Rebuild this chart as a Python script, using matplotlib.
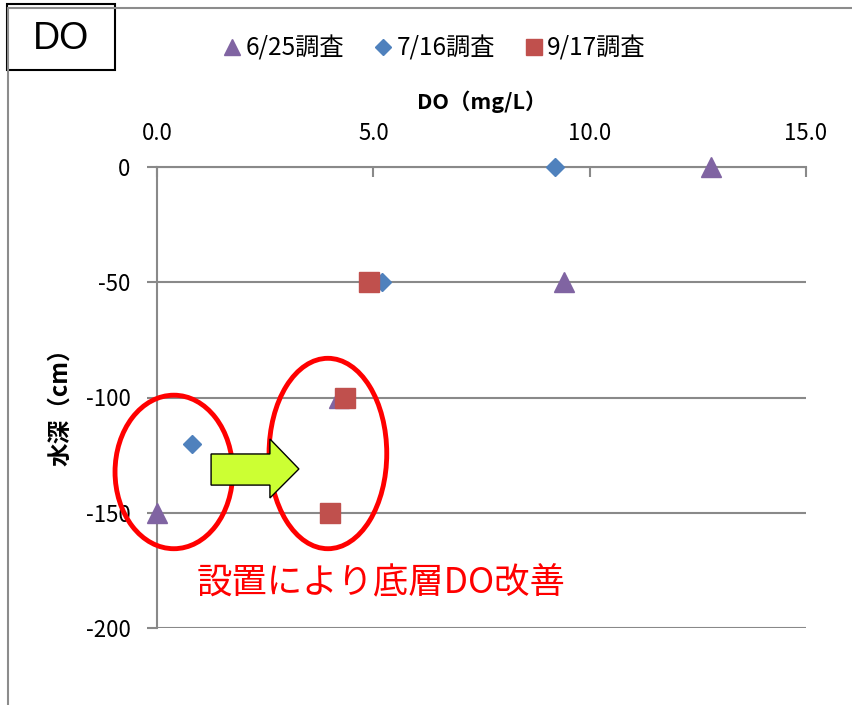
import matplotlib
matplotlib.use('Agg')
import matplotlib.pyplot as plt
from matplotlib.lines import Line2D
from matplotlib.patches import Ellipse, Polygon, Rectangle

plt.rcParams['font.family'] = ['Noto Sans CJK JP', 'DejaVu Sans']
plt.rcParams['axes.unicode_minus'] = False

# DO profiles (mg/L) against water depth (cm) for three surveys
depth_0625 = [0, -50, -100, -150]
do_0625 = [12.8, 9.4, 4.2, 0.0]
depth_0716 = [0, -50, -120]
do_0716 = [9.2, 5.2, 0.8]
depth_0917 = [-50, -100, -150]
do_0917 = [4.9, 4.35, 4.0]

labels = ['6/25調査', '7/16調査', '9/17調査']
colors = ['#8064A2', '#4F81BD', '#C0504D']
x_ticks = [0, 5, 10, 15]
y_ticks = [0, -50, -100, -150, -200]
grid_col = '#898989'

fig = plt.figure(figsize=(8.52, 7.05), dpi=100)
W, H = 852, 705
ax = fig.add_axes([157 / W, 1 - 628 / H, 649 / W, 461 / H])

ax.plot(do_0625, depth_0625, ls='none', marker='^', ms=14.5, color=colors[0],
        zorder=3, clip_on=False)
ax.plot(do_0716, depth_0716, ls='none', marker='D', ms=9.5, color=colors[1],
        zorder=4, clip_on=False)
ax.plot(do_0917, depth_0917, ls='none', marker='s', ms=14.5, color=colors[2],
        zorder=5, clip_on=False)

ax.set_xlim(0, 15)
ax.set_ylim(-200, 0)
ax.set_xticks(x_ticks)
ax.set_xticklabels([f'{v:.1f}' for v in x_ticks])
ax.set_yticks(y_ticks)
ax.set_yticklabels([str(v) for v in y_ticks])

ax.xaxis.tick_top()
ax.xaxis.set_label_position('top')
ax.tick_params(axis='x', direction='in', length=7, width=1.5, color=grid_col,
               pad=16, labelsize=16)
ax.tick_params(axis='y', direction='out', length=7, width=1.5, color=grid_col,
               pad=12, labelsize=16)

for side in ['right', 'bottom']:
    ax.spines[side].set_visible(False)
for side in ['left', 'top']:
    ax.spines[side].set_color(grid_col)
    ax.spines[side].set_linewidth(1.5)
ax.yaxis.grid(True, color=grid_col, lw=1.5)
ax.set_axisbelow(True)

ax.set_xlabel('DO（mg/L）', fontsize=15.5, fontweight='bold', labelpad=9)
ax.set_ylabel('水深（cm）', fontsize=17, fontweight='bold')
ax.yaxis.set_label_coords(-0.131, 0.492)

# highlight: before / after installation
ax.add_patch(Ellipse((0.39, -132.3), 2.72, 66.6, fill=False, ec='#FF0000',
                     lw=3.5, clip_on=False, zorder=6))
ax.add_patch(Ellipse((3.95, -124.3), 2.72, 82.6, fill=False, ec='#FF0000',
                     lw=3.5, clip_on=False, zorder=6))
arrow = [(1.25, -124.5), (2.61, -124.5), (2.61, -118.0), (3.28, -131.0),
         (2.61, -143.6), (2.61, -138.0), (1.25, -138.0)]
ax.add_patch(Polygon(arrow, closed=True, fc='#CCFF33', ec='black', lw=1,
                     zorder=7))
ax.text(0.92, -180, '設置により底層DO改善', color='#FF0000', fontsize=25.5,
        ha='left', va='center', zorder=8)

# legend
handles = [Line2D([], [], ls='none', marker='^', ms=12, color=colors[0]),
           Line2D([], [], ls='none', marker='D', ms=8.5, color=colors[1]),
           Line2D([], [], ls='none', marker='s', ms=11.5, color=colors[2])]
fig.legend(handles, labels, ncol=3, frameon=False, fontsize=17.5,
           loc='center', bbox_to_anchor=(434 / W, 1 - 49 / H),
           handlelength=0.8, handletextpad=0.15, columnspacing=1.2)

# outer chart frame and title box
fig.add_artist(Line2D([8 / W, 8 / W], [0, 1 - 8 / H], color='#8c8c8c', lw=1.5))
fig.add_artist(Line2D([8 / W, 1], [1 - 8 / H, 1 - 8 / H], color='#8c8c8c', lw=1.5))
fig.add_artist(Rectangle((7 / W, 1 - 70 / H), 108 / W, 66 / H, fc='white',
                         ec='black', lw=1.5, transform=fig.transFigure))
fig.text(61 / W, 1 - 39 / H, 'DO', fontsize=27, ha='center', va='center',
         family=['Liberation Sans', 'DejaVu Sans'])

fig.savefig('out.png', dpi=100)
